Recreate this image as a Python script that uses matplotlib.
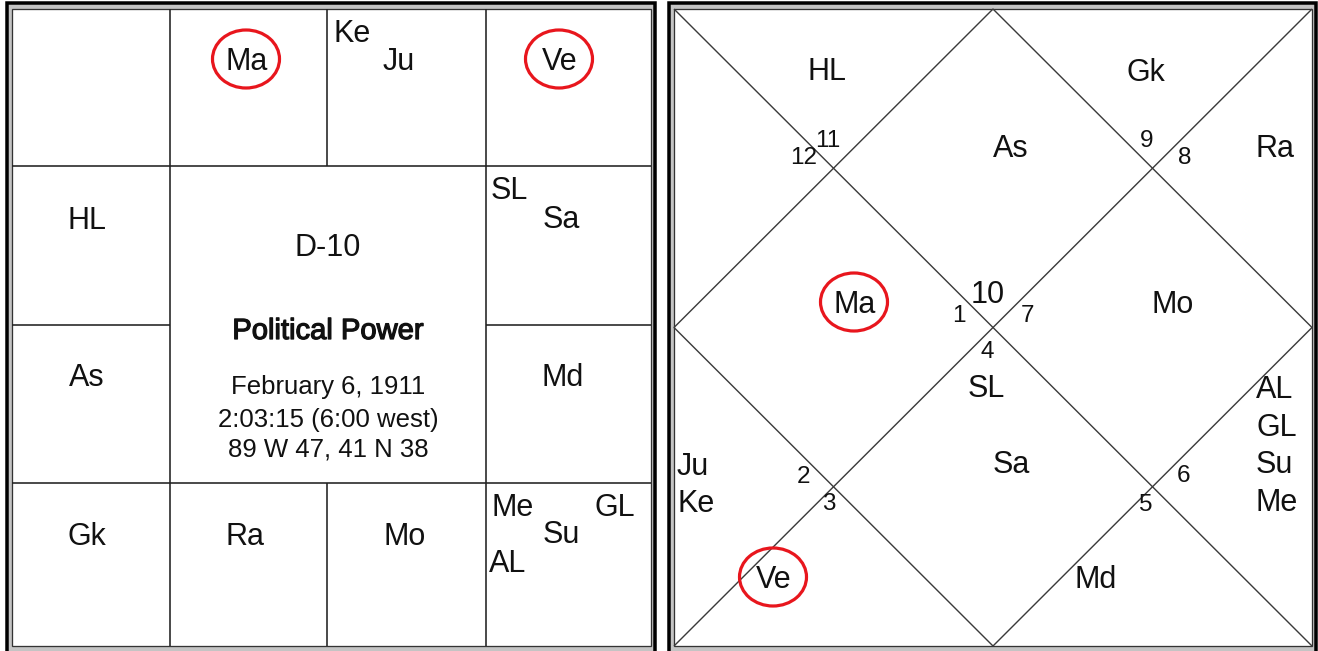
import matplotlib
matplotlib.use("Agg")
import matplotlib.pyplot as plt
import matplotlib.patheffects as pe
from matplotlib.patches import Rectangle, Ellipse, Polygon

# ---------------- data ----------------
title_lines = ["D-10", "Political Power", "February 6, 1911",
               "2:03:15 (6:00 west)", "89 W 47, 41 N 38"]

# South Indian chart: planets per sign (1 = Aries ... 12 = Pisces)
south_planets = {
    1: ["Ma"], 2: ["Ke", "Ju"], 3: ["Ve"], 4: ["SL", "Sa"], 5: ["Md"],
    6: ["Me", "GL", "Su", "AL"], 7: ["Mo"], 8: ["Ra"], 9: ["Gk"],
    10: ["As"], 11: ["HL"], 12: [],
}
# North Indian chart: sign number in each house (house 1..12)
north_house_signs = [10, 11, 12, 1, 2, 3, 4, 5, 6, 7, 8, 9]
# North Indian chart: planets per house
north_planets = {
    1: ["As"], 2: ["HL"], 3: [], 4: ["Ma"], 5: ["Ju", "Ke"], 6: ["Ve"],
    7: ["SL", "Sa"], 8: ["Md"], 9: ["AL", "GL", "Su", "Me"], 10: ["Mo"],
    11: ["Ra"], 12: ["Gk"],
}
highlighted = ["Ma", "Ve"]

# ---------------- layout ----------------
W, H = 1318, 651
fig = plt.figure(figsize=(W / 100, H / 100), dpi=100)
ax = fig.add_axes([0, 0, 1, 1])
ax.set_xlim(0, W)
ax.set_ylim(H, 0)
ax.axis("off")

FONT = ["Liberation Sans", "DejaVu Sans"]
TXT = "#111111"
LINE = "#222222"
RED = "#e8161d"
PX = 0.72  # points per pixel

BIG = 22
NUM = 17.5
INFO = 18.5


def frame(x0, y0, x1, y1, ox0, oy0, ox1, oy1):
    ax.add_patch(Rectangle((ox0, oy0), ox1 - ox0, oy1 - oy0, facecolor="#c4c4c4",
                           edgecolor="black", lw=3.5 * PX, zorder=1))
    ax.add_patch(Rectangle((x0, y0), x1 - x0, y1 - y0, facecolor="white",
                           edgecolor="#333333", lw=1.3 * PX, zorder=2))


def line(xs, ys, color=LINE, lw=1.6):
    ax.plot(xs, ys, color=color, lw=lw * PX, solid_capstyle="butt", zorder=3)


def label(x, y, s, ha="center", size=BIG, effects=None):
    ax.text(x, y, s, ha=ha, va="baseline", fontsize=size, family=FONT,
            color=TXT, zorder=5, path_effects=effects)


def circle(x, y):
    ax.add_patch(Ellipse((x - 1, y - 11), 67, 58, facecolor="none",
                         edgecolor=RED, lw=3.2 * PX, zorder=6))


# ===== South Indian chart (left) =====
L0, T0, R0, B0 = 12, 9, 651, 646
frame(L0, T0, R0, B0, 7, 3, 655, 660)
vx = [L0, 170, 327, 486, R0]
hy = [T0, 166, 325, 483, B0]
line([L0, R0], [hy[1], hy[1]])
line([L0, R0], [hy[3], hy[3]])
line([L0, vx[1]], [hy[2], hy[2]])
line([vx[3], R0], [hy[2], hy[2]])
line([vx[1], vx[1]], [T0, B0])
line([vx[3], vx[3]], [T0, B0])
line([vx[2], vx[2]], [T0, hy[1]])
line([vx[2], vx[2]], [hy[3], B0])

south_pos = {
    1: [(247, 70, "center")],
    2: [(333, 42, "left"), (399, 70, "center")],
    3: [(560, 70, "center")],
    4: [(491, 199, "left"), (561, 228, "center")],
    5: [(563, 386, "center")],
    6: [(491, 516, "left"), (615, 516, "center"), (561, 543, "center"), (489, 572, "left")],
    7: [(405, 545, "center")],
    8: [(245, 545, "center")],
    9: [(87, 545, "center")],
    10: [(87, 386, "center")],
    11: [(87, 229, "center")],
    12: [],
}
for sign, planets in south_planets.items():
    for name, (x, y, ha) in zip(planets, south_pos[sign]):
        label(x, y, name, ha=ha)
        if name in highlighted:
            circle(x, y)

cx = 328
label(cx, 256, title_lines[0], size=BIG)
label(cx, 339, title_lines[1], size=21,
      effects=[pe.withStroke(linewidth=0.9, foreground=TXT)])
label(cx, 394, title_lines[2], size=INFO)
label(cx, 427, title_lines[3], size=INFO)
label(cx, 457, title_lines[4], size=INFO)

# ===== North Indian chart (right) =====
L1, T1, R1, B1 = 674, 9, 1312, 646
frame(L1, T1, R1, B1, 669, 3, 1316, 660)
mx, my = (L1 + R1) / 2, (T1 + B1) / 2
line([L1, R1], [T1, B1], color="#3a3a3a", lw=1.4)
line([R1, L1], [T1, B1], color="#3a3a3a", lw=1.4)
ax.add_patch(Polygon([(mx, T1), (R1, my), (mx, B1), (L1, my)], closed=True,
                     facecolor="none", edgecolor="#3a3a3a", lw=1.4 * PX, zorder=3))

north_num_pos = [(988, 303), (828, 147), (804, 164), (959, 322), (803, 483), (829, 510),
                 (987, 358), (1146, 511), (1184, 482), (1028, 322), (1185, 164), (1147, 147)]
for i, (sign, (x, y)) in enumerate(zip(north_house_signs, north_num_pos)):
    label(x, y, str(sign), size=BIG if i == 0 else NUM)

north_pos = {
    1: [(1011, 157, "center")],
    2: [(827, 80, "center")],
    3: [],
    4: [(855, 313, "center")],
    5: [(677, 475, "left"), (677, 512, "left")],
    6: [(774, 588, "center")],
    7: [(986, 397, "center"), (1011, 473, "center")],
    8: [(1096, 588, "center")],
    9: [(1256, 398, "left"), (1256, 436, "left"), (1256, 473, "left"), (1256, 511, "left")],
    10: [(1173, 313, "center")],
    11: [(1275, 157, "center")],
    12: [(1146, 81, "center")],
}
for house, planets in north_planets.items():
    for name, (x, y, ha) in zip(planets, north_pos[house]):
        label(x, y, name, ha=ha)
        if name in highlighted:
            circle(x, y)

fig.savefig("out.png", dpi=100, facecolor="white")
